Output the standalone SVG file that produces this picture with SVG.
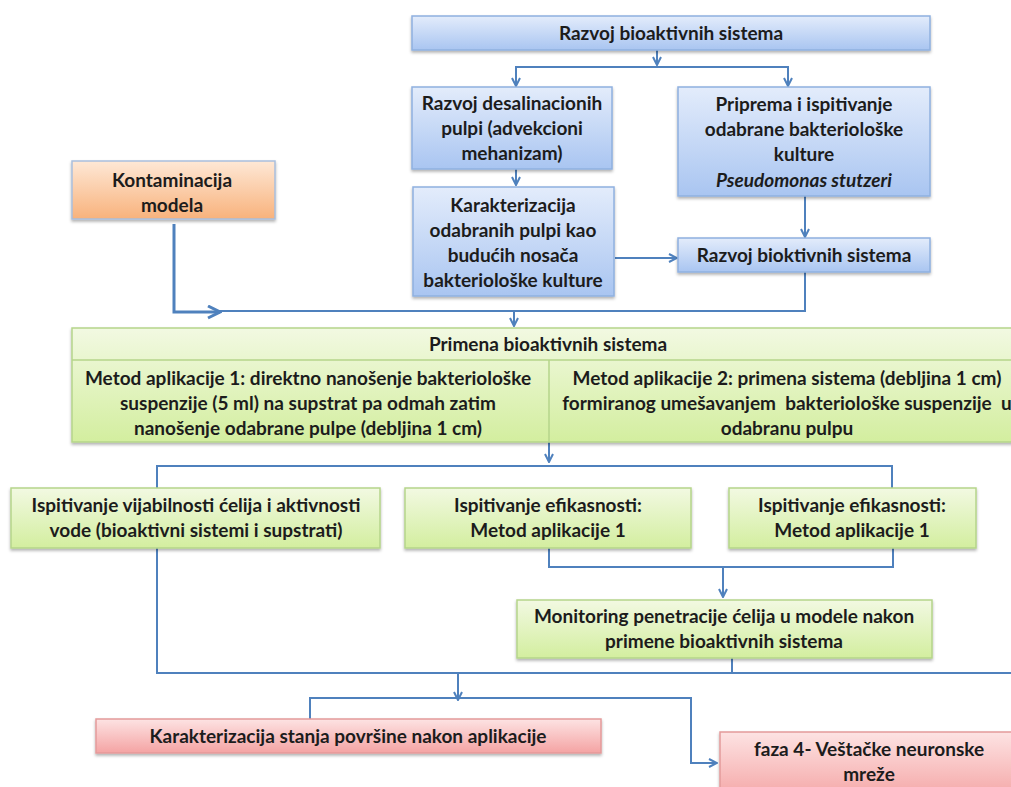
<svg xmlns="http://www.w3.org/2000/svg" width="1011" height="787" viewBox="0 0 1011 787">
  <defs>
    <linearGradient id="gBlue" x1="0" y1="0" x2="0" y2="1">
      <stop offset="0" stop-color="#e3ecfb"/>
      <stop offset="1" stop-color="#a9c5f1"/>
    </linearGradient>
    <linearGradient id="gGreen" x1="0" y1="0" x2="0" y2="1">
      <stop offset="0" stop-color="#f2f9e2"/>
      <stop offset="1" stop-color="#d3ee9f"/>
    </linearGradient>
    <linearGradient id="gOrange" x1="0" y1="0" x2="0" y2="1">
      <stop offset="0" stop-color="#fee8d6"/>
      <stop offset="1" stop-color="#f8b27c"/>
    </linearGradient>
    <linearGradient id="gRed" x1="0" y1="0" x2="0" y2="1">
      <stop offset="0" stop-color="#fde3e3"/>
      <stop offset="1" stop-color="#f4a3a3"/>
    </linearGradient>
    <filter id="shadow" x="-5%" y="-10%" width="110%" height="130%">
      <feDropShadow dx="0" dy="2" stdDeviation="1.5" flood-color="#000" flood-opacity="0.3"/>
    </filter>
    <marker id="arrow" viewBox="0 0 10 10" refX="9" refY="5" markerWidth="5" markerHeight="5" orient="auto" markerUnits="strokeWidth">
      <path d="M1,1 L9,5 L1,9" fill="none" stroke="#4f81bd" stroke-width="2"/>
    </marker>
  </defs>
  <style>
    .blue { fill: url(#gBlue); stroke: #8fb0df; stroke-width: 1.5; filter: url(#shadow); }
    .green { fill: url(#gGreen); stroke: #b5d58a; stroke-width: 1.5; filter: url(#shadow); }
    .orange { fill: url(#gOrange); stroke: #a9bedd; stroke-width: 1.5; filter: url(#shadow); }
    .red { fill: url(#gRed); stroke: #e49a9a; stroke-width: 1.5; filter: url(#shadow); }
    .div { stroke: #b5d58a; stroke-width: 1.5; fill: none; }
    text { font-family: Lato, "Open Sans", "Liberation Sans", sans-serif; font-weight: bold; font-size: 19px; fill: #1c1c1c; text-anchor: middle; }
    .it { font-style: italic; }
    .conn path { fill: none; stroke: #4f81bd; stroke-width: 2; }
  </style>

  <!-- connectors -->
  <g id="connectors" class="conn">
    <path d="M657,50 V65" marker-end="url(#arrow)"/>
    <path d="M657,67 H516 V86" marker-end="url(#arrow)"/>
    <path d="M657,67 H788 V86" marker-end="url(#arrow)"/>
    <path d="M516,169 V185" marker-end="url(#arrow)"/>
    <path d="M805,196 V237" marker-end="url(#arrow)"/>
    <path d="M615,258 H677" marker-end="url(#arrow)"/>
    <path d="M805,272 V311 H215"/>
    <path d="M174,224 V312 H220" marker-end="url(#arrow)" style="stroke-width:3"/>
    <path d="M514,311 V326" marker-end="url(#arrow)"/>
    <path d="M549,442 V462" marker-end="url(#arrow)"/>
    <path d="M157,488 V466 H892 V488"/>
    <path d="M549,548 V567 H893 V548"/>
    <path d="M723,567 V597" marker-end="url(#arrow)"/>
    <path d="M157,548 V673 H1011"/>
    <path d="M732,658 V673"/>
    <path d="M458,673 V700" marker-end="url(#arrow)"/>
    <path d="M310,719 V698 H691 V763 H717" marker-end="url(#arrow)"/>
  </g>

  <g id="n-razvoj-bio">
    <rect class="blue" x="412" y="16" width="518" height="34"/>
    <text x="671" y="40">Razvoj bioaktivnih sistema</text>
  </g>

  <g id="n-desalinacija">
    <rect class="blue" x="412" y="87" width="200" height="82"/>
    <text x="512" y="110">Razvoj desalinacionih</text>
    <text x="512" y="135">pulpi (advekcioni</text>
    <text x="512" y="160">mehanizam)</text>
  </g>

  <g id="n-priprema">
    <rect class="blue" x="678" y="87" width="252" height="109"/>
    <text x="804" y="111">Priprema i ispitivanje</text>
    <text x="804" y="136">odabrane bakteriološke</text>
    <text x="804" y="161">kulture</text>
    <text class="it" x="804" y="187">Pseudomonas stutzeri</text>
  </g>

  <g id="n-kontaminacija">
    <rect class="orange" x="72" y="161" width="203" height="58"/>
    <text x="172" y="187">Kontaminacija</text>
    <text x="172" y="212">modela</text>
  </g>

  <g id="n-karakterizacija-pulpi">
    <rect class="blue" x="413" y="187" width="201" height="109"/>
    <text x="513" y="212">Karakterizacija</text>
    <text x="513" y="237">odabranih pulpi kao</text>
    <text x="513" y="262">budućih nosača</text>
    <text x="513" y="287">bakteriološke kulture</text>
  </g>

  <g id="n-razvoj-bioktivnih">
    <rect class="blue" x="678" y="238" width="252" height="34"/>
    <text x="804" y="262">Razvoj bioktivnih sistema</text>
  </g>

  <g id="n-primena">
    <rect class="green" x="72" y="328" width="950" height="114"/>
    <path class="div" d="M72,360 H1011 M549,360 V442"/>
    <text x="548" y="351">Primena bioaktivnih sistema</text>
    <text x="308" y="385">Metod aplikacije 1: direktno nanošenje bakteriološke</text>
    <text x="308" y="410">suspenzije (5 ml) na supstrat pa odmah zatim</text>
    <text x="308" y="435">nanošenje odabrane pulpe (debljina 1 cm)</text>
    <text x="787" y="385">Metod aplikacije 2: primena sistema (debljina 1 cm)</text>
    <text x="787" y="410" xml:space="preserve">formiranog umešavanjem  bakteriološke suspenzije  u</text>
    <text x="787" y="435">odabranu pulpu</text>
  </g>

  <g id="n-vijabilnost">
    <rect class="green" x="11" y="488" width="369" height="60"/>
    <text x="196" y="512">Ispitivanje vijabilnosti ćelija i aktivnosti</text>
    <text x="196" y="537">vode (bioaktivni sistemi i supstrati)</text>
  </g>

  <g id="n-efikasnost-1">
    <rect class="green" x="405" y="488" width="286" height="60"/>
    <text x="548" y="512">Ispitivanje efikasnosti:</text>
    <text x="548" y="537">Metod aplikacije 1</text>
  </g>

  <g id="n-efikasnost-2">
    <rect class="green" x="729" y="488" width="247" height="60"/>
    <text x="852" y="512">Ispitivanje efikasnosti:</text>
    <text x="852" y="537">Metod aplikacije 1</text>
  </g>

  <g id="n-monitoring">
    <rect class="green" x="517" y="600" width="415" height="58"/>
    <text x="724" y="623">Monitoring penetracije ćelija u modele nakon</text>
    <text x="724" y="648">primene bioaktivnih sistema</text>
  </g>

  <g id="n-karakterizacija-povrsine">
    <rect class="red" x="96" y="719" width="505" height="34"/>
    <text x="348" y="743">Karakterizacija stanja površine nakon aplikacije</text>
  </g>

  <g id="n-faza4">
    <rect class="red" x="720" y="732" width="310" height="70"/>
    <text x="869" y="756">faza 4- Veštačke neuronske</text>
    <text x="869" y="781">mreže</text>
  </g>
</svg>
